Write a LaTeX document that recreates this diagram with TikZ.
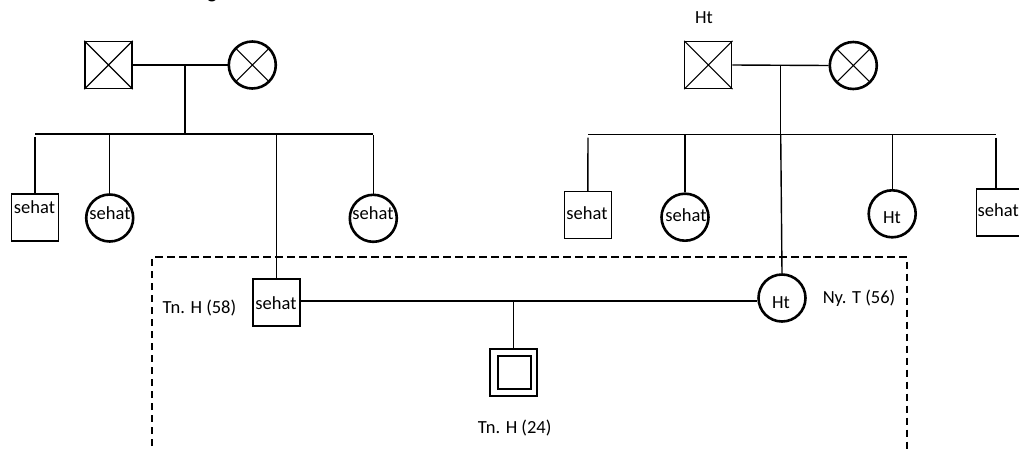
\documentclass[tikz,border=0pt]{standalone}
\usepackage{fontspec}
\setmainfont{Carlito}
\tikzset{
  male/.style={draw, rectangle, line width=1.3pt, minimum size=47pt, inner sep=0pt},
  female/.style={draw, circle, line width=2.6pt, minimum size=47pt, inner sep=0pt},
  inner/.style={draw, rectangle, line width=1.5pt, minimum size=33pt, inner sep=0pt},
  tie/.style={line width=1.4pt},
  cross/.style={line width=1.1pt},
  famframe/.style={line width=1.8pt, dash pattern=on 7.5pt off 4.5pt},
  lbl/.style={font=\fontsize{18.5}{20}\selectfont, inner sep=0pt, anchor=base},
  head/.style={font=\bfseries\fontsize{20}{22}\selectfont, inner sep=0pt, anchor=base}
}
\begin{document}
\begin{tikzpicture}[x=1pt, y=-1pt]
\useasboundingbox (0,0) rectangle (1019,450);

% heading, mostly above the page
\node[head] (title) at (212,-2) {g};

% ---- paternal grandparents ----
\node[male]   (gpL) at (108.5,65) {};
\node[female] (gmL) at (252.3,65) {};
\draw[cross] (gpL.north west) -- (gpL.south east) (gpL.north east) -- (gpL.south west);
\draw[cross] ([shift={(-16,-16)}]gmL.center) -- ([shift={(16,16)}]gmL.center)
             ([shift={(16,-16)}]gmL.center) -- ([shift={(-16,16)}]gmL.center);
\coordinate (jL) at (185,65);
\coordinate (barLa) at (35,134);
\coordinate (barLb) at (373.3,134);
\draw[tie] (gpL.east) -- (gmL.west);
\draw[tie] (jL) -- (jL |- barLa);
\draw[tie] (barLa) -- (barLb);

% paternal siblings
\node[male]   (c1) at (35,217.5) {};
\node[female] (c2) at (109.7,218) {};
\node[male]   (fa) at (276.5,302.5) {};
\node[female] (c4) at (373.3,218.3) {};
\draw[tie] ([yshift=-3pt]barLa) -- (c1.north);
\draw[tie] (c2.north |- barLa) -- (c2.north);
\draw[tie] (fa.north |- barLa) -- (fa.north);
\draw[tie] ([yshift=-1pt]barLb) -- (c4.north);
\node[lbl] (tc1) at (34.5,213) {sehat};
\node[lbl] (tc2) at (110,219) {sehat};
\node[lbl] (tfa) at (276,309) {sehat};
\node[lbl] (tc4) at (373,219) {sehat};

% ---- maternal grandparents ----
\node[male]   (gpR) at (708.3,65) {};
\node[female] (gmR) at (853.3,65.5) {};
\draw[cross] (gpR.north west) -- (gpR.south east) (gpR.north east) -- (gpR.south west);
\draw[cross] ([shift={(-16,-16)}]gmR.center) -- ([shift={(16,16)}]gmR.center)
             ([shift={(16,-16)}]gmR.center) -- ([shift={(-16,16)}]gmR.center);
\node[lbl] (tgpR) at (704,23) {Ht};
\coordinate (jR) at (780.7,65);
\coordinate (barRa) at (588,134.5);
\coordinate (barRb) at (996,134.5);
\draw[tie] (gpR.east) -- (gmR.west);
\draw[tie] (jR) -- (jR |- barRa);
\draw[tie] (barRa) -- (barRb);

% maternal siblings
\node[male]   (d1) at (587.8,215) {};
\node[female] (d2) at (685,217.2) {};
\node[female] (mo) at (782,298) {};
\node[female] (d4) at (892.2,213.8) {};
\node[male]   (d5) at (1000,212.5) {};
\draw[tie] ([yshift=-3pt]barRa) -- (d1.north);
\draw[tie] (d2.north |- barRa) -- (d2.north);
\draw[tie] (jR |- barRa) -- (mo.north);
\draw[tie] (d4.north |- barRa) -- (d4.north);
\draw[tie] ([yshift=-3pt]barRb) -- (barRb |- d5.north);
\node[lbl] (td1) at (587,219) {sehat};
\node[lbl] (td2) at (686,221) {sehat};
\node[lbl] (tmo) at (781,308) {Ht};
\node[lbl] (td4) at (892,223) {Ht};
\node[lbl, anchor=base west] (td5) at (977.5,216) {sehat};

% ---- parents and child ----
\coordinate (cpl) at (513.3,301);
\draw[tie] (fa.east |- cpl) -- (mo.west |- cpl);
\node[male, line width=1.6pt] (son) at (513.5,372.5) {};
\node[inner] (sonin) at (514.3,372.5) {};
\draw[tie] (cpl) -- (cpl |- son.north);
\node[lbl] (tfa2) at (199.5,313) {Tn. H (58)};
\node[lbl] (tmo2) at (859,303.5) {Ny. T (56)};
\node[lbl] (tson) at (514.7,433) {Tn. H (24)};

% household frame, open at the bottom
\draw[famframe] (151.7,470) -- (151.7,257.3) -- (906.7,257.3) -- (906.7,470);
\end{tikzpicture}
\end{document}
